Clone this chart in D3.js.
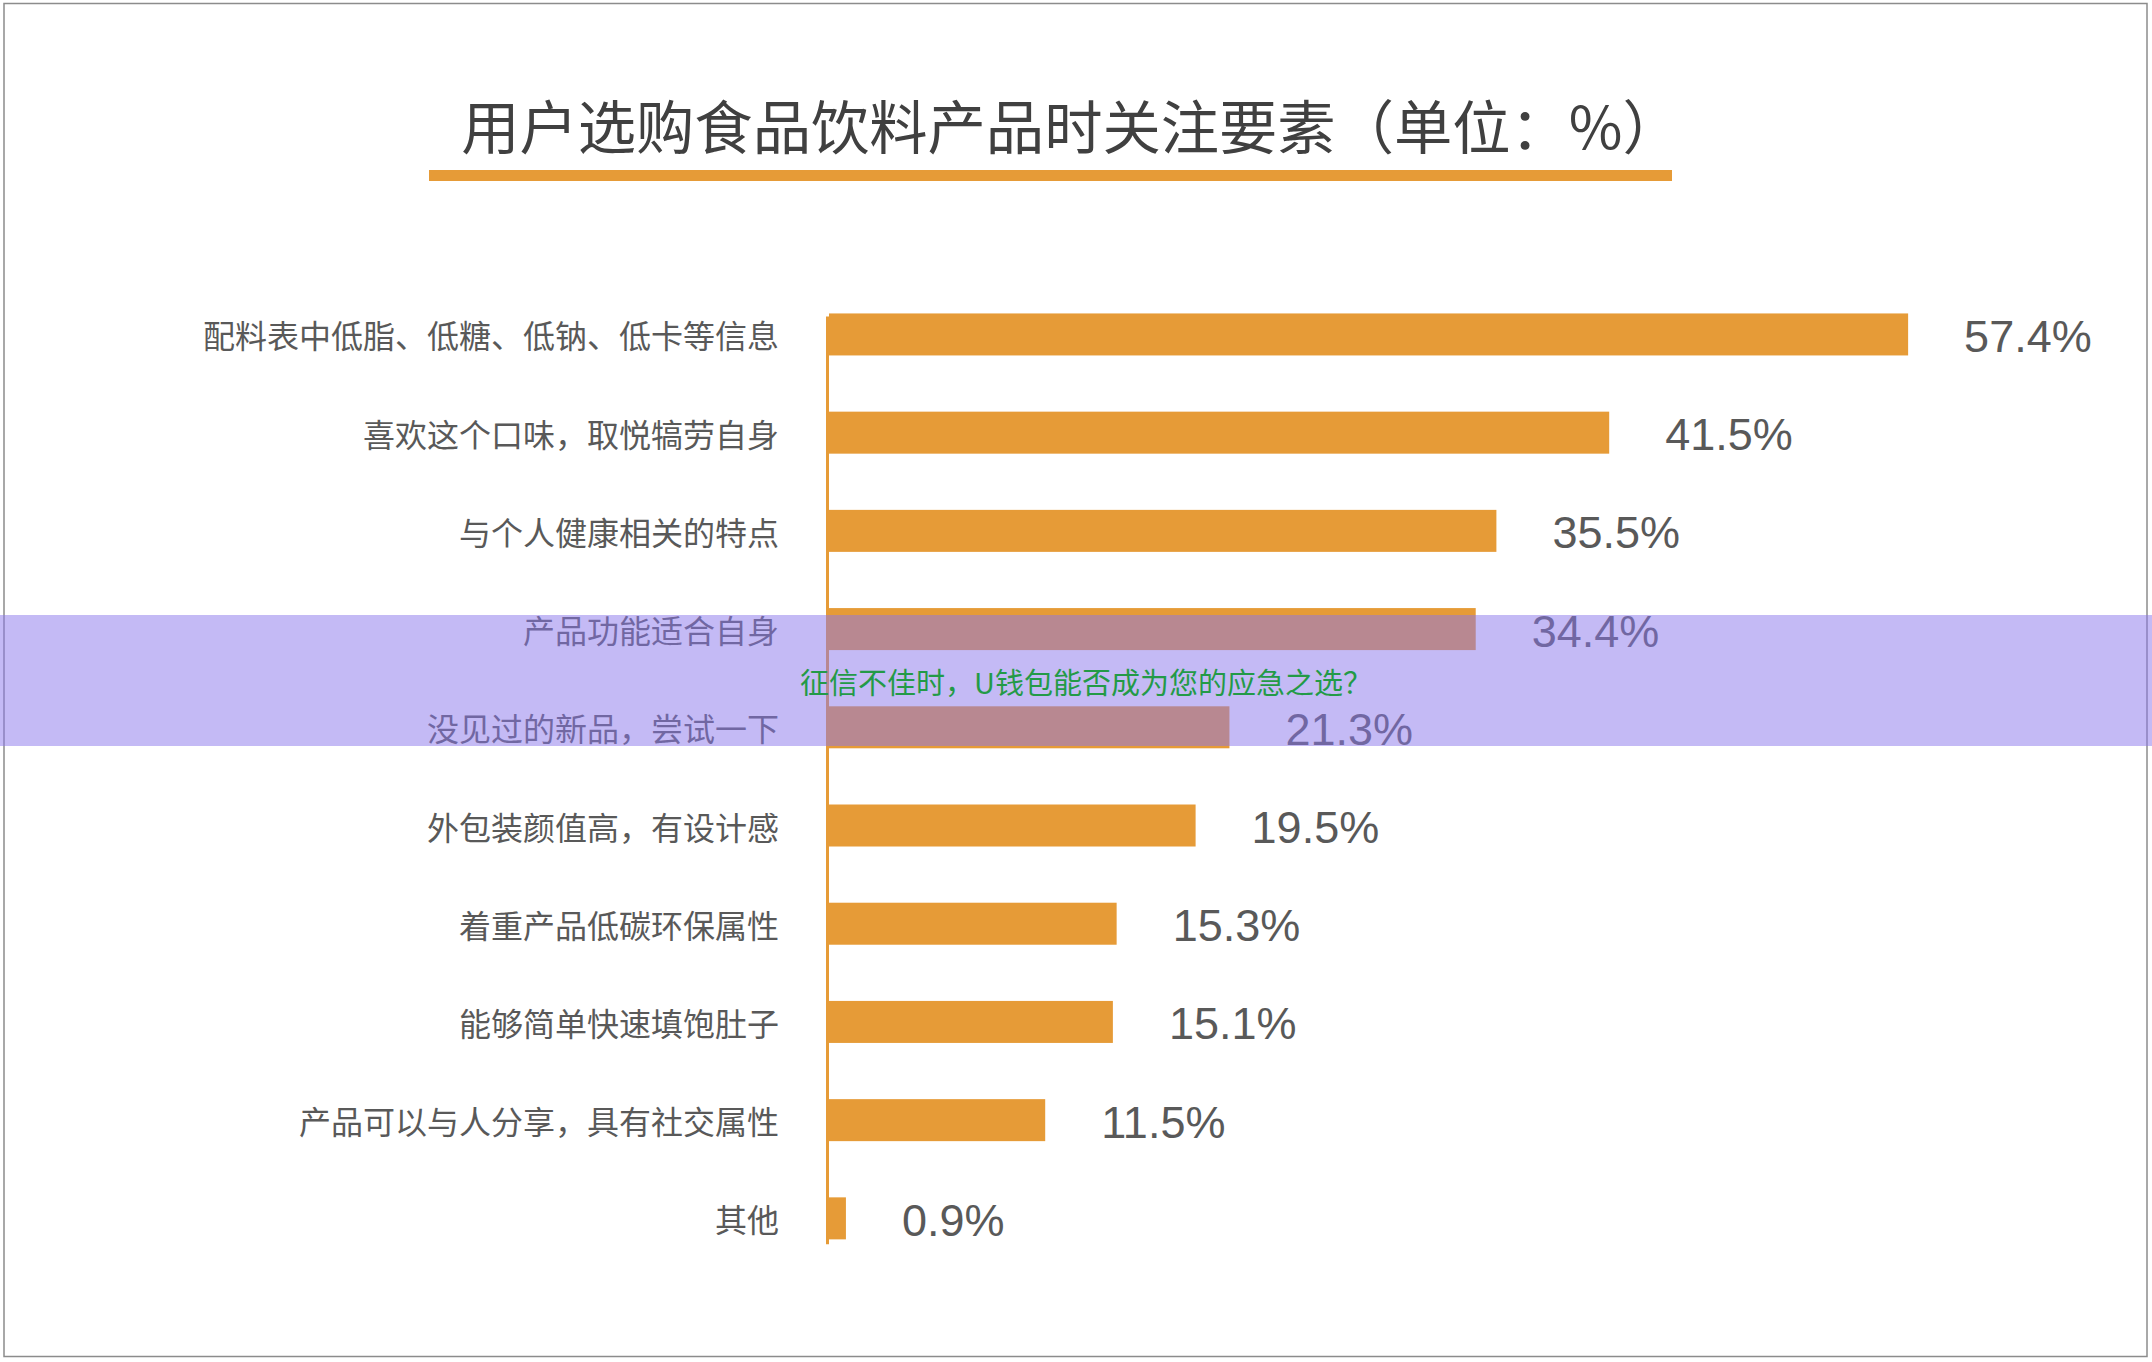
<!DOCTYPE html>
<html>
<head>
<meta charset="utf-8">
<script src="https://cdn.jsdelivr.net/npm/d3@7/dist/d3.min.js"></script>
<style>
  html, body { margin: 0; padding: 0; background: #fff; }
  svg { display: block; }
</style>
</head>
<body>
<div id="chart"></div>
<script>
// ---- data ----
const titleText = "用户选购食品饮料产品时关注要素（单位：%）";
const categories = [
  "配料表中低脂、低糖、低钠、低卡等信息",
  "喜欢这个口味，取悦犒劳自身",
  "与个人健康相关的特点",
  "产品功能适合自身",
  "没见过的新品，尝试一下",
  "外包装颜值高，有设计感",
  "着重产品低碳环保属性",
  "能够简单快速填饱肚子",
  "产品可以与人分享，具有社交属性",
  "其他"
];
const values = [57.4, 41.5, 35.5, 34.4, 21.3, 19.5, 15.3, 15.1, 11.5, 0.9];
const valueLabels = ["57.4%", "41.5%", "35.5%", "34.4%", "21.3%", "19.5%", "15.3%", "15.1%", "11.5%", "0.9%"];
const overlayText = "征信不佳时，U钱包能否成为您的应急之选？";

// ---- layout ----
const W = 2152, H = 1362;
const orange = "#E69B37";
const gray = "#595959";
const cjk = "'Noto Sans CJK SC', 'Noto Sans', sans-serif";
const latin = "'Liberation Sans', Arial, Helvetica, sans-serif";

const svg = d3.select("#chart").append("svg")
  .attr("width", W).attr("height", H);

svg.append("rect").attr("width", W).attr("height", H).attr("fill", "#fff");

// frame
svg.append("rect")
  .attr("x", 4).attr("y", 3.5)
  .attr("width", 2143).attr("height", 1353)
  .attr("fill", "none").attr("stroke", "#8c8c8c").attr("stroke-width", 1.5);

// title
svg.append("text")
  .attr("x", 1071).attr("y", 123)
  .attr("text-anchor", "middle")
  .attr("dominant-baseline", "central")
  .attr("font-family", cjk)
  .attr("font-size", 58.3)
  .attr("fill", "#404040")
  .text(titleText);

svg.append("rect")
  .attr("x", 429).attr("y", 170)
  .attr("width", 1243).attr("height", 11)
  .attr("fill", orange);

// scales
const x0 = 829;
const x = d3.scaleLinear().domain([0, 60]).range([x0, x0 + 60 * 18.8]);
const y = d3.scaleBand().domain(categories)
  .range([293.8, 1259]).paddingInner(0.5723).paddingOuter(0.2);

const g = svg.append("g");

// bars
g.selectAll("rect.bar").data(values).join("rect")
  .attr("class", "bar")
  .attr("x", x(0))
  .attr("y", (d, i) => y(categories[i]))
  .attr("width", d => x(d) - x(0))
  .attr("height", y.bandwidth())
  .attr("fill", orange);

// category axis
const yAxis = d3.axisLeft(y).tickSize(0).tickPadding(50);
const ax = g.append("g").attr("transform", `translate(${x0},0)`).call(yAxis);
ax.select(".domain").remove();
ax.selectAll("text")
  .attr("dy", null)
  .attr("dominant-baseline", "central")
  .attr("font-family", cjk)
  .attr("font-size", 32)
  .attr("fill", gray);

// axis line
g.append("line")
  .attr("x1", 827.5).attr("x2", 827.5)
  .attr("y1", y(categories[0]) + 3)
  .attr("y2", y(categories[categories.length - 1]) + y.bandwidth() + 5)
  .attr("stroke", orange).attr("stroke-width", 3);

// value labels
g.selectAll("text.val").data(values).join("text")
  .attr("class", "val")
  .attr("x", d => x(d) + 56)
  .attr("y", (d, i) => y(categories[i]) + y.bandwidth() / 2 + 2)
  .attr("dominant-baseline", "central")
  .attr("font-family", latin)
  .attr("font-size", 45)
  .attr("fill", gray)
  .text((d, i) => valueLabels[i]);

// overlay band
svg.append("rect")
  .attr("x", 0).attr("y", 615)
  .attr("width", W).attr("height", 131)
  .attr("fill", "rgb(137,117,235)").attr("fill-opacity", 0.5);

svg.append("text")
  .attr("x", 800).attr("y", 680.5)
  .attr("dominant-baseline", "central")
  .attr("font-family", cjk)
  .attr("font-size", 29)
  .attr("fill", "#239a47")
  .text(overlayText);
</script>
</body>
</html>
